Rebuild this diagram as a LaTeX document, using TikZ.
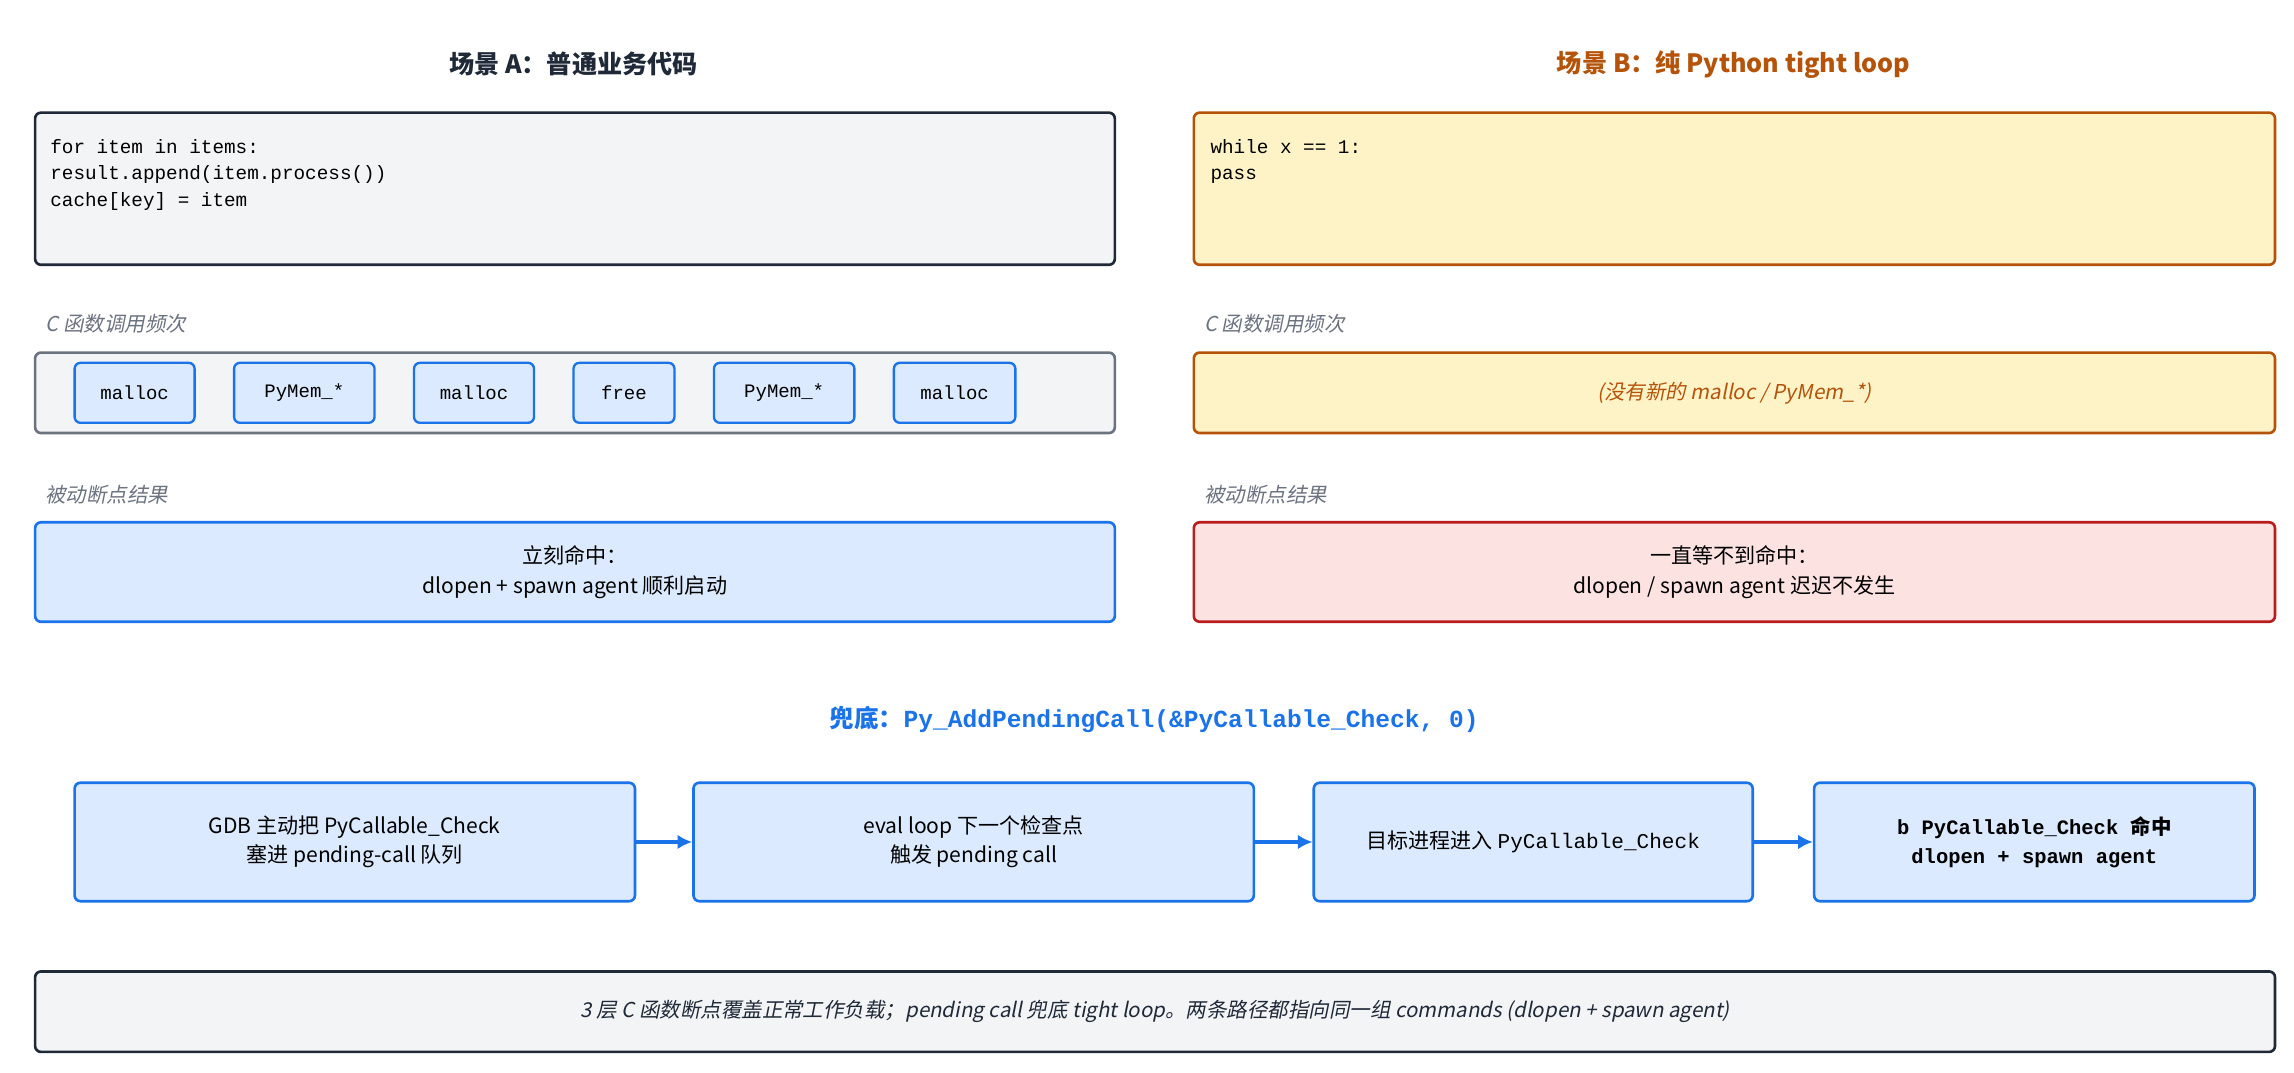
\documentclass[tikz,border=0pt]{standalone}
\usepackage{fontspec}
\setmainfont{Noto Sans CJK SC}[AutoFakeSlant=0.2]
\setmonofont{Liberation Mono}
\definecolor{dk}{HTML}{1F2937}
\definecolor{gf}{HTML}{F3F4F6}
\definecolor{gb}{HTML}{6B7280}
\definecolor{bf}{HTML}{DBEAFE}
\definecolor{bb}{HTML}{1A73E8}
\definecolor{of}{HTML}{FEF3C7}
\definecolor{ob}{HTML}{B45309}
\definecolor{rf}{HTML}{FDE2E2}
\definecolor{rb}{HTML}{B91C1C}
\begin{document}
\begin{tikzpicture}[x=0.5pt,y=-0.5pt,
  box/.style={rounded corners=2pt,line width=0.9pt},
  chip/.style={box,fill=bf,draw=bb,line width=0.8pt,font=\ttfamily\fontsize{6.5}{8}\selectfont},
  lab/.style={anchor=west,font=\itshape\fontsize{7}{9}\selectfont,text=gb},
  txt/.style={font=\fontsize{7.2}{10}\selectfont,align=center,text=black},
  code/.style={anchor=north west,font=\ttfamily\fontsize{6.6}{9}\selectfont,align=left,inner sep=0pt},
  arr/.style={-{Latex[length=5pt,width=5pt]},draw=bb,line width=1.1pt}]
\usetikzlibrary{arrows.meta}
\useasboundingbox (0,0) rectangle (1568,733);
\fill[white] (0,0) rectangle (1568,733);
% titles
\node[font=\bfseries\fontsize{8.6}{10}\selectfont,text=dk] (ta) at (392,44) {场景 A：普通业务代码};
\node[font=\bfseries\fontsize{8.6}{10}\selectfont,text=ob] (tb) at (1185,44) {场景 B：纯 Python tight loop};
% code boxes
\draw[box,fill=gf,draw=dk] (24,77) rectangle (762,181);
\node[code] (ca) at (34,95) {for item in items:\\result.append(item.process())\\cache[key] = item};
\draw[box,fill=of,draw=ob] (816,77) rectangle (1555,181);
\node[code] (cb) at (827,95) {while x == 1:\\pass};
% labels
\node[lab] (la1) at (24,221) {C 函数调用频次};
\node[lab] (lb1) at (816,221) {C 函数调用频次};
\node[lab] (la2) at (24,338) {被动断点结果};
\node[lab] (lb2) at (816,338) {被动断点结果};
% freq
\draw[box,fill=gf,draw=gb] (24,241) rectangle (762,296);
\foreach \a/\b/\t [count=\i] in {51/133/malloc,160/256/PyMem\_*,283/365/malloc,392/461/free,488/584/PyMem\_*,611/694/malloc}
  \draw[chip] (\a,248) rectangle (\b,289) node[midway] (k\i) {\t};
\draw[box,fill=of,draw=ob] (816,241) rectangle (1555,296)
  node[midway,font=\itshape\fontsize{7}{9}\selectfont,text=ob] (nb) {(没有新的 malloc / PyMem\_*)};
% results
\draw[box,fill=bf,draw=bb] (24,357) rectangle (762,425)
  node[midway,txt] (ra) {立刻命中：\\dlopen + spawn agent 顺利启动};
\draw[box,fill=rf,draw=rb] (816,357) rectangle (1555,425)
  node[midway,txt] (rbn) {一直等不到命中：\\dlopen / spawn agent 迟迟不发生};
% fallback
\node[font=\bfseries\fontsize{8.4}{10}\selectfont,text=bb] (fb) at (789,492) {兜底：\texttt{Py\_AddPendingCall(\&PyCallable\_Check, 0)}};
\node[box,fill=bf,draw=bb,minimum width=191.5pt,minimum height=40.5pt,txt] (f1) at (242.5,575.5) {GDB 主动把 PyCallable\_Check\\塞进 pending-call 队列};
\node[box,fill=bf,draw=bb,minimum width=191.5pt,minimum height=40.5pt,txt] (f2) at (665.5,575.5) {eval loop 下一个检查点\\触发 pending call};
\node[box,fill=bf,draw=bb,minimum width=150pt,minimum height=40.5pt,txt] (f3) at (1048,575.5) {目标进程进入 \texttt{PyCallable\_Check}};
\node[box,fill=bf,draw=bb,minimum width=150.5pt,minimum height=40.5pt,txt,font=\ttfamily\bfseries\fontsize{7}{10}\selectfont] (f4) at (1390.5,575.5) {b PyCallable\_Check {\rmfamily 命中}\\dlopen + spawn agent};
\draw[arr] (f1) -- (f2);
\draw[arr] (f2) -- (f3);
\draw[arr] (f3) -- (f4);
% bottom
\draw[box,fill=gf,draw=dk] (24,664) rectangle (1555,719)
  node[midway,font=\itshape\fontsize{7}{9}\selectfont,text=dk] (bt) {3 层 C 函数断点覆盖正常工作负载；pending call 兜底 tight loop。两条路径都指向同一组 commands (dlopen + spawn agent)};
\end{tikzpicture}
\end{document}
